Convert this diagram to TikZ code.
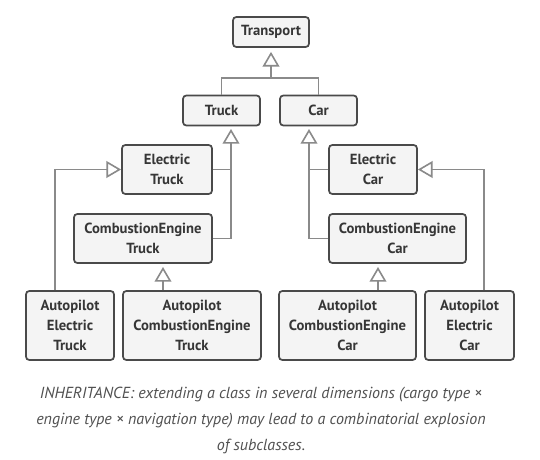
\documentclass[tikz,border=0pt]{standalone}
\usepackage{fontspec}
\setmainfont{PT Sans}
\usetikzlibrary{arrows.meta}
\definecolor{boxfill}{HTML}{F4F4F4}
\definecolor{boxline}{HTML}{4A4A4A}
\definecolor{txt}{HTML}{363636}
\definecolor{conn}{HTML}{8A8A8A}
\definecolor{captxt}{HTML}{505050}
\begin{document}
\begin{tikzpicture}[x=0.75pt,y=-0.75pt,
  cls/.style={draw=boxline, fill=boxfill, line width=1.3pt, rounded corners=2.5pt,
    text=txt, font=\fontsize{11}{15}\selectfont\bfseries, align=center,
    inner sep=0pt, minimum height=#1},
  cls/.default=22.5pt,
  link/.style={draw=conn, line width=1.2pt},
  inh/.style={link, -{Triangle[open, length=11pt, width=12.5pt, fill=white]}},
  gap/.style={shorten >=3pt}]
\fill[white] (0,0) rectangle (540,460);
\useasboundingbox (0,0) rectangle (540,460);

\node[cls, minimum width=57pt] (transport) at (271,32) {Transport};
\node[cls, minimum width=57.75pt] (truck) at (221.5,110.5) {Truck};
\node[cls, minimum width=57.75pt] (car) at (318.5,110.5) {Car};

\node[cls=36.75pt, minimum width=67.5pt] (etruck) at (167,169.5) {Electric\\Truck};
\node[cls=36.75pt, minimum width=103.5pt] (cetruck) at (143,238.5) {CombustionEngine\\Truck};
\node[cls=36.75pt, minimum width=66pt] (ecar) at (373,169.5) {Electric\\Car};
\node[cls=36.75pt, minimum width=102.75pt] (cecar) at (397.5,238.5) {CombustionEngine\\Car};

\node[cls=51.75pt, minimum width=66pt] (aet) at (70,325.5) {Autopilot\\Electric\\Truck};
\node[cls=51.75pt, minimum width=103.5pt] (acet) at (192,325.5) {Autopilot\\CombustionEngine\\Truck};
\node[cls=51.75pt, minimum width=102.75pt] (acec) at (347.5,325.5) {Autopilot\\CombustionEngine\\Car};
\node[cls=51.75pt, minimum width=66.75pt] (aec) at (469.5,325.5) {Autopilot\\Electric\\Car};

% Transport hierarchy
\coordinate (j1) at (271,78);
\draw[link] (truck.north) |- (j1) -| (car.north);
\draw[inh, gap] (j1) -- (transport.south);

% Truck subclasses
\coordinate (tstem) at (231,125);
\draw[link] (etruck.east) -- (etruck.east -| tstem);
\draw[inh, gap] (cetruck.east) -| (tstem);

% Car subclasses
\coordinate (cstem) at (309,125);
\draw[link] (ecar.west) -- (ecar.west -| cstem);
\draw[inh, gap] (cecar.west) -| (cstem);

% Autopilot electric
\coordinate (lx) at (55,169.5);
\draw[inh] (aet.north -| lx) |- (etruck.west);
\coordinate (rx) at (484,169.5);
\draw[inh] (aec.north -| rx) |- (ecar.east);

% Autopilot combustion
\coordinate (ctt) at (163,263);
\draw[inh, gap] (acet.north -| ctt) -- (ctt);
\coordinate (cct) at (378,263);
\draw[inh, gap] (acec.north -| cct) -- (cct);

\node[text=captxt, font=\fontsize{12}{19.5}\selectfont\itshape, align=center] (caption) at (261,420)
 {INHERITANCE: extending a class in several dimensions (cargo type ×\\
  engine type × navigation type) may lead to a combinatorial explosion\\
  of subclasses.};
\end{tikzpicture}
\end{document}
